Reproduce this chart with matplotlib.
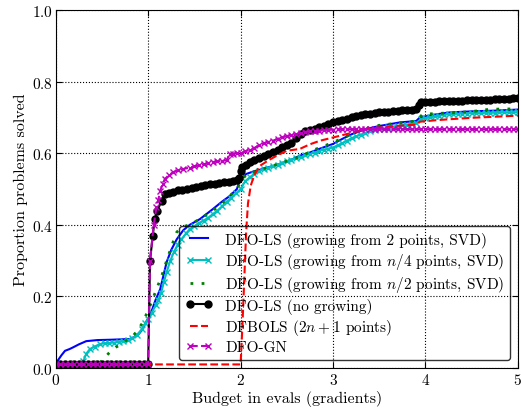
import matplotlib
matplotlib.use('Agg')
import matplotlib.pyplot as plt

plt.rcParams['font.family'] = 'serif'
plt.rcParams['font.serif'] = ['cmr10', 'DejaVu Serif']
plt.rcParams['mathtext.fontset'] = 'cm'
plt.rcParams['axes.formatter.use_mathtext'] = True
plt.rcParams['font.size'] = 11

# DFO-LS (growing from 2 points, SVD)
blue_x = [0, 0.02, 0.06, 0.1, 0.15, 0.19, 0.25, 0.33, 0.45, 0.6, 0.8, 0.88, 0.93, 0.98,
          1.02, 1.08, 1.13, 1.2, 1.25, 1.31, 1.38, 1.45, 1.56, 1.63, 1.7, 1.8, 1.88, 1.96,
          1.99, 2.06, 2.15, 2.24, 2.33, 2.42, 2.55, 2.64, 2.75, 2.85, 3.0, 3.1, 3.2, 3.36,
          3.5, 3.72, 3.9, 3.94, 4.1, 4.26, 4.5, 4.75, 5.0]
blue_y = [0.01, 0.02, 0.035, 0.048, 0.053, 0.058, 0.066, 0.075, 0.078, 0.079, 0.081, 0.09, 0.105, 0.13,
          0.146, 0.19, 0.22, 0.296, 0.33, 0.36, 0.385, 0.40, 0.416, 0.43, 0.444, 0.465, 0.48, 0.50,
          0.523, 0.542, 0.55, 0.556, 0.563, 0.57, 0.582, 0.593, 0.602, 0.612, 0.626, 0.64, 0.653, 0.668,
          0.676, 0.686, 0.69, 0.70, 0.708, 0.714, 0.717, 0.719, 0.722]

# DFO-LS (growing from n/4 points, SVD)
cyan_x = [0, 0.05, 0.1, 0.15, 0.2, 0.25, 0.3, 0.33, 0.37, 0.42, 0.48, 0.53, 0.58, 0.63, 0.68,
          0.73, 0.78, 0.83, 0.88, 0.93, 0.97, 1.0, 1.04, 1.08, 1.11, 1.14, 1.17, 1.2, 1.24, 1.28,
          1.32, 1.36, 1.41, 1.45, 1.5, 1.55, 1.6, 1.65, 1.7, 1.75, 1.8, 1.85, 1.9, 1.95, 2.0,
          2.05, 2.1, 2.15, 2.2, 2.25, 2.3, 2.35, 2.4, 2.45, 2.5, 2.55, 2.6, 2.65, 2.7, 2.75,
          2.8, 2.85, 2.9, 2.95, 3.0, 3.05, 3.1, 3.15, 3.2, 3.25, 3.3, 3.35, 3.4, 3.45, 3.5,
          3.55, 3.6, 3.65, 3.7, 3.75, 3.8, 3.85, 3.9, 3.95, 4.0, 4.05, 4.1, 4.15, 4.2, 4.25,
          4.3, 4.35, 4.4, 4.45, 4.5, 4.55, 4.6, 4.65, 4.7, 4.75, 4.8, 4.85, 4.9, 4.95, 5.0]
cyan_y = [0.01, 0.01, 0.01, 0.01, 0.01, 0.01, 0.02, 0.04, 0.053, 0.06, 0.067, 0.069, 0.07, 0.071, 0.073,
          0.075, 0.078, 0.083, 0.093, 0.108, 0.125, 0.137, 0.155, 0.175, 0.19, 0.21, 0.24, 0.268, 0.30, 0.325,
          0.345, 0.36, 0.376, 0.388, 0.396, 0.405, 0.412, 0.42, 0.43, 0.44, 0.452, 0.464, 0.476, 0.488, 0.50,
          0.522, 0.533, 0.543, 0.55, 0.556, 0.56, 0.563, 0.568, 0.574, 0.578, 0.582, 0.586, 0.589, 0.594, 0.598,
          0.602, 0.606, 0.61, 0.613, 0.616, 0.622, 0.628, 0.635, 0.642, 0.647, 0.652, 0.657, 0.661, 0.664, 0.667,
          0.669, 0.672, 0.674, 0.676, 0.678, 0.68, 0.682, 0.684, 0.695, 0.698, 0.70, 0.703, 0.705, 0.707, 0.709,
          0.71, 0.71, 0.711, 0.711, 0.712, 0.712, 0.712, 0.713, 0.713, 0.713, 0.714, 0.714, 0.714, 0.714, 0.715]

# DFO-LS (growing from n/2 points, SVD)
green_x = [0, 0.45, 0.5, 0.55, 0.6, 0.65, 0.7, 0.77, 0.82, 0.87, 0.91, 0.95, 0.98, 1.03, 1.09,
           1.15, 1.2, 1.26, 1.31, 1.38, 1.45, 1.55, 1.7, 1.8, 1.9, 1.96, 2.0, 2.06, 2.2, 2.35,
           2.5, 2.64, 2.8, 3.0, 3.15, 3.3, 3.47, 3.76, 3.9, 3.97, 4.2, 4.37, 4.55, 4.7, 5.0]
green_y = [0.01, 0.01, 0.02, 0.035, 0.048, 0.058, 0.065, 0.078, 0.085, 0.10, 0.115, 0.13, 0.15, 0.18, 0.22,
           0.26, 0.30, 0.345, 0.38, 0.395, 0.40, 0.415, 0.44, 0.46, 0.485, 0.50, 0.52, 0.54, 0.553, 0.565,
           0.578, 0.59, 0.61, 0.63, 0.648, 0.665, 0.677, 0.686, 0.69, 0.709, 0.712, 0.714, 0.718, 0.723, 0.724]

# DFO-LS (no growing)
black_x = [0, 0.05, 0.1, 0.15, 0.2, 0.25, 0.3, 0.35, 0.4, 0.45, 0.5, 0.55, 0.6, 0.65, 0.7,
           0.75, 0.8, 0.85, 0.9, 0.95, 1.0, 1.02, 1.05, 1.07, 1.1, 1.145, 1.18, 1.22, 1.27, 1.32,
           1.37, 1.42, 1.47, 1.52, 1.57, 1.62, 1.67, 1.72, 1.77, 1.82, 1.87, 1.92, 1.96, 1.98, 2.0,
           2.02, 2.06, 2.1, 2.15, 2.2, 2.25, 2.3, 2.35, 2.4, 2.45, 2.5, 2.55, 2.6, 2.65, 2.7,
           2.75, 2.8, 2.85, 2.9, 2.95, 3.0, 3.05, 3.1, 3.15, 3.2, 3.25, 3.3, 3.35, 3.4, 3.45,
           3.5, 3.55, 3.6, 3.65, 3.7, 3.75, 3.8, 3.85, 3.9, 3.93, 3.95, 4.0, 4.05, 4.1, 4.15,
           4.2, 4.25, 4.3, 4.35, 4.4, 4.45, 4.5, 4.55, 4.6, 4.65, 4.7, 4.75, 4.8, 4.85, 4.9,
           4.95, 5.0]
black_y = [0.01, 0.01, 0.01, 0.01, 0.01, 0.01, 0.01, 0.01, 0.01, 0.01, 0.01, 0.01, 0.01, 0.01, 0.01,
           0.01, 0.01, 0.01, 0.01, 0.01, 0.01, 0.30, 0.37, 0.416, 0.44, 0.467, 0.486, 0.49, 0.493, 0.496,
           0.498, 0.50, 0.502, 0.505, 0.508, 0.51, 0.513, 0.515, 0.517, 0.519, 0.521, 0.523, 0.525, 0.53, 0.55,
           0.562, 0.567, 0.575, 0.582, 0.588, 0.593, 0.598, 0.603, 0.61, 0.617, 0.622, 0.63, 0.642, 0.655, 0.662,
           0.666, 0.669, 0.672, 0.677, 0.682, 0.686, 0.689, 0.693, 0.697, 0.70, 0.704, 0.706, 0.709, 0.711, 0.712,
           0.714, 0.715, 0.716, 0.717, 0.719, 0.72, 0.721, 0.722, 0.723, 0.735, 0.742, 0.743, 0.744, 0.744, 0.745,
           0.745, 0.746, 0.746, 0.747, 0.747, 0.748, 0.748, 0.749, 0.749, 0.75, 0.75, 0.751, 0.751, 0.752, 0.752,
           0.753, 0.753]

# DFBOLS (2n+1 points)
red_x = [0, 1.0, 1.5, 2.0, 2.02, 2.04, 2.06, 2.08, 2.11, 2.15, 2.21, 2.3, 2.39, 2.5, 2.64,
         2.75, 2.86, 3.0, 3.2, 3.36, 3.55, 3.72, 3.9, 3.94, 4.1, 4.26, 4.5, 4.75, 5.0]
red_y = [0.01, 0.01, 0.01, 0.01, 0.12, 0.25, 0.38, 0.46, 0.51, 0.54, 0.565, 0.58, 0.593, 0.607, 0.612,
         0.625, 0.635, 0.644, 0.657, 0.668, 0.673, 0.677, 0.68, 0.688, 0.692, 0.695, 0.699, 0.702, 0.705]

# DFO-GN
mag_x = [0, 0.05, 0.1, 0.15, 0.2, 0.25, 0.3, 0.35, 0.4, 0.45, 0.5, 0.55, 0.6, 0.65, 0.7,
         0.75, 0.8, 0.85, 0.9, 0.95, 1.0, 1.02, 1.06, 1.09, 1.11, 1.13, 1.16, 1.18, 1.22, 1.27,
         1.32, 1.38, 1.45, 1.5, 1.55, 1.6, 1.65, 1.7, 1.75, 1.8, 1.85, 1.88, 1.92, 1.96, 2.0,
         2.05, 2.1, 2.15, 2.2, 2.25, 2.3, 2.35, 2.4, 2.45, 2.5, 2.55, 2.6, 2.65, 2.7, 2.75,
         2.8, 2.85, 2.9, 2.95, 3.0, 3.05, 3.1, 3.15, 3.2, 3.25, 3.3, 3.35, 3.4, 3.45, 3.5,
         3.55, 3.6, 3.65, 3.7, 3.75, 3.8, 3.85, 3.9, 3.95, 4.0, 4.05, 4.1, 4.15, 4.2, 4.25,
         4.3, 4.35, 4.4, 4.45, 4.5, 4.55, 4.6, 4.65, 4.7, 4.75, 4.8, 4.85, 4.9, 4.95, 5.0]
mag_y = [0.01, 0.01, 0.01, 0.01, 0.01, 0.01, 0.01, 0.01, 0.01, 0.01, 0.01, 0.01, 0.01, 0.01, 0.01,
         0.01, 0.01, 0.01, 0.01, 0.01, 0.01, 0.30, 0.40, 0.45, 0.47, 0.495, 0.515, 0.528, 0.538, 0.547,
         0.552, 0.556, 0.56, 0.563, 0.566, 0.569, 0.572, 0.575, 0.577, 0.579, 0.58, 0.598, 0.599, 0.60, 0.60,
         0.605, 0.61, 0.615, 0.622, 0.628, 0.632, 0.635, 0.64, 0.644, 0.648, 0.651, 0.653, 0.656, 0.659, 0.661,
         0.662, 0.663, 0.664, 0.665, 0.666, 0.667, 0.667, 0.667, 0.667, 0.667, 0.667, 0.667, 0.667, 0.667, 0.667,
         0.667, 0.667, 0.667, 0.667, 0.667, 0.667, 0.667, 0.667, 0.667, 0.667, 0.667, 0.667, 0.667, 0.667, 0.667,
         0.667, 0.667, 0.667, 0.667, 0.667, 0.667, 0.667, 0.667, 0.667, 0.667, 0.667, 0.667, 0.667, 0.667, 0.667]

labels = ['DFO-LS (growing from 2 points, SVD)',
          'DFO-LS (growing from $n/4$ points, SVD)',
          'DFO-LS (growing from $n/2$ points, SVD)',
          'DFO-LS (no growing)',
          'DFBOLS ($2n+1$ points)',
          'DFO-GN']

fig = plt.figure(figsize=(5.21, 4.10), dpi=100)
ax = fig.add_axes([0.107, 0.1, 0.887, 0.873])

ax.plot(blue_x, blue_y, color='b', linestyle='-', linewidth=1.5, label=labels[0])
ax.plot(cyan_x, cyan_y, color='c', linestyle='-', linewidth=1.5, marker='x',
        markersize=5, markeredgewidth=1, label=labels[1])
ax.plot(green_x, green_y, color='g', linestyle=(0, (1, 3)), linewidth=2, label=labels[2])
ax.plot(black_x, black_y, color='k', linestyle='-', linewidth=1.5, marker='o',
        markersize=5, label=labels[3])
ax.plot(red_x, red_y, color='r', linestyle='--', linewidth=1.5, label=labels[4])
ax.plot(mag_x, mag_y, color='m', linestyle='--', linewidth=1.5, marker='x',
        markersize=5, markeredgewidth=1, label=labels[5])

ax.set_xlim(0, 5)
ax.set_ylim(0, 1)
ax.set_xticks([0, 1, 2, 3, 4, 5])
ax.set_yticks([0.0, 0.2, 0.4, 0.6, 0.8, 1.0])
ax.tick_params(direction='in', top=True, right=True, length=4, labelsize=11, pad=3)
ax.tick_params(axis='y', pad=2)
ax.grid(True, color='k', linestyle=':', linewidth=0.8)
ax.set_xlabel('Budget in evals (gradients)', fontsize=11.5, labelpad=2)
ax.set_ylabel('Proportion problems solved', fontsize=11.5, labelpad=3)

leg = ax.legend(loc='lower right', numpoints=2, fancybox=True, borderaxespad=0.5,
                handlelength=1.8, labelspacing=0.22, fontsize=11)
leg.get_frame().set_facecolor('none')
leg.get_frame().set_edgecolor('k')

fig.savefig('out.png', dpi=100)
